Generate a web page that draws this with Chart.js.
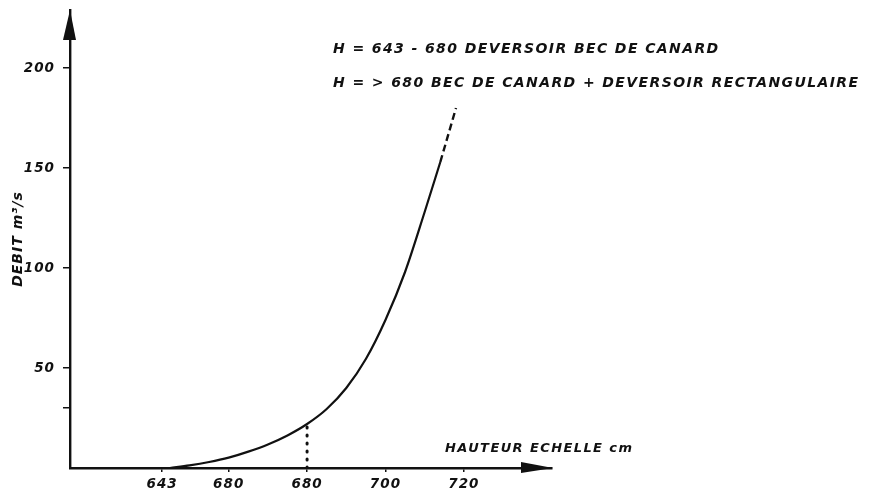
<!DOCTYPE html>
<html>
<head>
<meta charset="utf-8">
<script src="https://cdn.jsdelivr.net/npm/chart.js@4"></script>
<style>
  html, body { margin: 0; padding: 0; background: #fff; }
  #wrap { width: 870px; height: 498px; }
</style>
</head>
<body>
<div id="wrap"><canvas id="myChart"></canvas></div>
<script>
// rating curve
const hauteur = [645, 650, 655, 660, 665, 670, 675, 680, 685, 690, 695, 700, 705, 710, 714];
const debit = [0, 1.3, 3, 5.2, 8.2, 11.8, 16.3, 22, 29.5, 40, 54.5, 74, 98, 128, 153];
// dashed extrapolation
const hauteurExt = [714, 718];
const debitExt = [153, 180];
// dotted marker at 680
const hauteurMark = [680, 680];
const debitMark = [0, 22];

const xTicks = [643, 660, 680, 700, 720];
const xTickLabels = ['643', '680', '680', '700', '720'];
const yTicks = [30, 50, 100, 150, 200];
const yTickLabels = ['', '50', '100', '150', '200'];

const notes = [
  'H = 643 - 680 DEVERSOIR BEC DE CANARD',
  'H = > 680 BEC DE CANARD + DEVERSOIR RECTANGULAIRE'
];
const xTitle = 'HAUTEUR ECHELLE cm';
const yTitle = 'DEBIT m³/s';

const ink = '#111';
const fam = '"DejaVu Sans", sans-serif';

const pts = (xs, ys) => xs.map((x, i) => ({ x: x, y: ys[i] }));

const spacing = {
  id: 'spacing',
  beforeLayout(chart) { chart.ctx.letterSpacing = '1px'; },
  beforeDraw(chart) { chart.ctx.letterSpacing = '1px'; }
};

const decor = {
  id: 'decor',
  afterDraw(chart) {
    const ctx = chart.ctx;
    const a = chart.chartArea;
    ctx.save();
    ctx.fillStyle = ink;
    // arrow on y axis
    ctx.beginPath();
    ctx.moveTo(a.left, a.top);
    ctx.lineTo(a.left - 7, a.top + 30);
    ctx.lineTo(a.left + 6, a.top + 30);
    ctx.closePath();
    ctx.fill();
    // arrow on x axis
    ctx.beginPath();
    ctx.moveTo(a.right + 1, a.bottom);
    ctx.lineTo(a.right - 31, a.bottom - 6);
    ctx.lineTo(a.right - 31, a.bottom + 5);
    ctx.closePath();
    ctx.fill();

    ctx.letterSpacing = '1.4px';
    ctx.textAlign = 'left';
    ctx.textBaseline = 'alphabetic';
    ctx.font = 'italic bold 14px ' + fam;
    ctx.fillText(notes[0], 333, 53);
    ctx.fillText(notes[1], 333, 87);
    ctx.font = 'italic bold 13px ' + fam;
    ctx.fillText(xTitle, 445, 452);
    ctx.restore();
  }
};

const ctx = document.getElementById('myChart').getContext('2d');
const myChart = new Chart(ctx, {
  type: 'line',
  data: {
    datasets: [
      {
        data: pts(hauteur, debit),
        borderColor: ink, borderWidth: 2.2,
        pointRadius: 0, cubicInterpolationMode: 'monotone'
      },
      {
        data: pts(hauteurExt, debitExt),
        borderColor: ink, borderWidth: 2.4, borderDash: [7, 4],
        pointRadius: 0
      },
      {
        data: pts(hauteurMark, debitMark),
        borderColor: ink, borderWidth: 3, borderDash: [1, 7],
        borderCapStyle: 'round', pointRadius: 0
      }
    ]
  },
  options: {
    responsive: true,
    maintainAspectRatio: false,
    animation: false,
    layout: { padding: { left: 0, top: 10, right: 318, bottom: 0 } },
    plugins: { legend: { display: false }, tooltip: { enabled: false } },
    scales: {
      x: {
        type: 'linear', min: 619.5, max: 742.5,
        afterFit: (s) => { s.height = 30; s.paddingLeft = 0; s.paddingRight = 0; },
        afterBuildTicks: (s) => { s.ticks = xTicks.map(v => ({ value: v })); },
        ticks: {
          color: ink, padding: 4, maxRotation: 0,
          font: { family: fam, size: 13.5, style: 'italic', weight: 'bold' },
          callback: (v) => xTickLabels[xTicks.indexOf(v)]
        },
        grid: { drawOnChartArea: false, drawTicks: true, tickLength: 4, color: ink, lineWidth: 1.5 },
        border: { display: true, color: ink, width: 2.4 }
      },
      y: {
        type: 'linear', min: 0, max: 229,
        afterFit: (s) => { s.width = 70; s.paddingTop = 0; s.paddingBottom = 0; },
        afterBuildTicks: (s) => { s.ticks = yTicks.map(v => ({ value: v })); },
        ticks: {
          color: ink, padding: 8,
          font: { family: fam, size: 13.5, style: 'italic', weight: 'bold' },
          callback: (v) => yTickLabels[yTicks.indexOf(v)]
        },
        grid: { drawOnChartArea: false, drawTicks: true, tickLength: 7, color: ink, lineWidth: 1.5 },
        border: { display: true, color: ink, width: 2.4 },
        title: {
          display: true, text: yTitle, color: ink, padding: { top: 10, bottom: 0 },
          font: { family: fam, size: 14, style: 'italic', weight: 'bold' }
        }
      }
    }
  },
  plugins: [spacing, decor]
});
</script>
</body>
</html>
